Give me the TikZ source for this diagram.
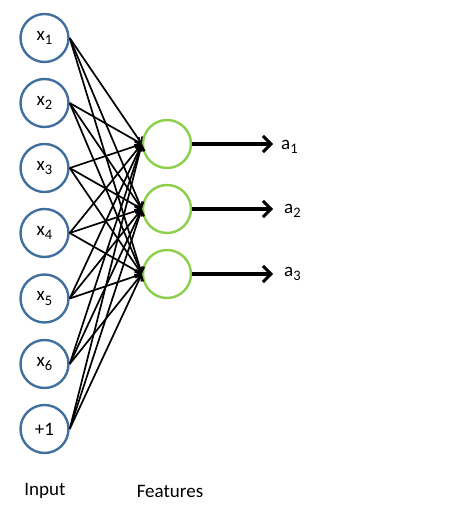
\documentclass[tikz,border=0pt]{standalone}
\usepackage{fontspec}
\setmainfont{Carlito}
\usetikzlibrary{arrows.meta}
\definecolor{inblue}{HTML}{41709E}
\definecolor{fgreen}{HTML}{8CCF4A}
\newcommand{\sbs}[1]{\raisebox{-0.45ex}{\fontsize{14.5}{15}\selectfont #1}}
\begin{document}
\begin{tikzpicture}[x=1pt,y=-1pt,
  font=\fontsize{19}{22}\selectfont,
  innode/.style={circle,draw=inblue,line width=2.4pt,minimum size=48pt,inner sep=0pt},
  fnode/.style={circle,draw=fgreen,line width=2.4pt,minimum size=48pt,inner sep=0pt},
  conn/.style={line width=1.7pt,-{Straight Barb[length=5pt,width=9pt,line width=1.5pt]}},
  outarrow/.style={line width=3.2pt,-{Straight Barb[length=8pt,width=16pt,line width=3pt]}},
  lbl/.style={inner sep=0pt}]
\useasboundingbox (0,0) rectangle (459,524);
\node[innode] (i1) at (44.5,38) {x\sbs{1}};
\node[innode] (i2) at (44.5,103) {x\sbs{2}};
\node[innode] (i3) at (44.5,168) {x\sbs{3}};
\node[innode] (i4) at (44.5,233) {x\sbs{4}};
\node[innode] (i5) at (44.5,298.5) {x\sbs{5}};
\node[innode] (i6) at (44.5,364) {x\sbs{6}};
\node[innode] (i7) at (44.5,429) {+1};
\node[fnode] (f1) at (167,144) {};
\node[fnode] (f2) at (167,209) {};
\node[fnode] (f3) at (167,274) {};
\foreach \i in {1,...,7}{
  \foreach \j in {1,2,3}{
    \draw[conn] (i\i.east) -- (f\j.west);
  }
}
\coordinate (o1) at (273,144);
\coordinate (o2) at (273,209);
\coordinate (o3) at (273,274);
\draw[outarrow] (f1.east) -- (o1);
\draw[outarrow] (f2.east) -- (o2);
\draw[outarrow] (f3.east) -- (o3);
\node[lbl,anchor=west] (a1) at (281,147) {a\sbs{1}};
\node[lbl,anchor=west] (a2) at (284,211) {a\sbs{2}};
\node[lbl,anchor=west] (a3) at (284,274) {a\sbs{3}};
\node (inp) at (45,491) {Input};
\node (feat) at (170,491) {Features};
\end{tikzpicture}
\end{document}
